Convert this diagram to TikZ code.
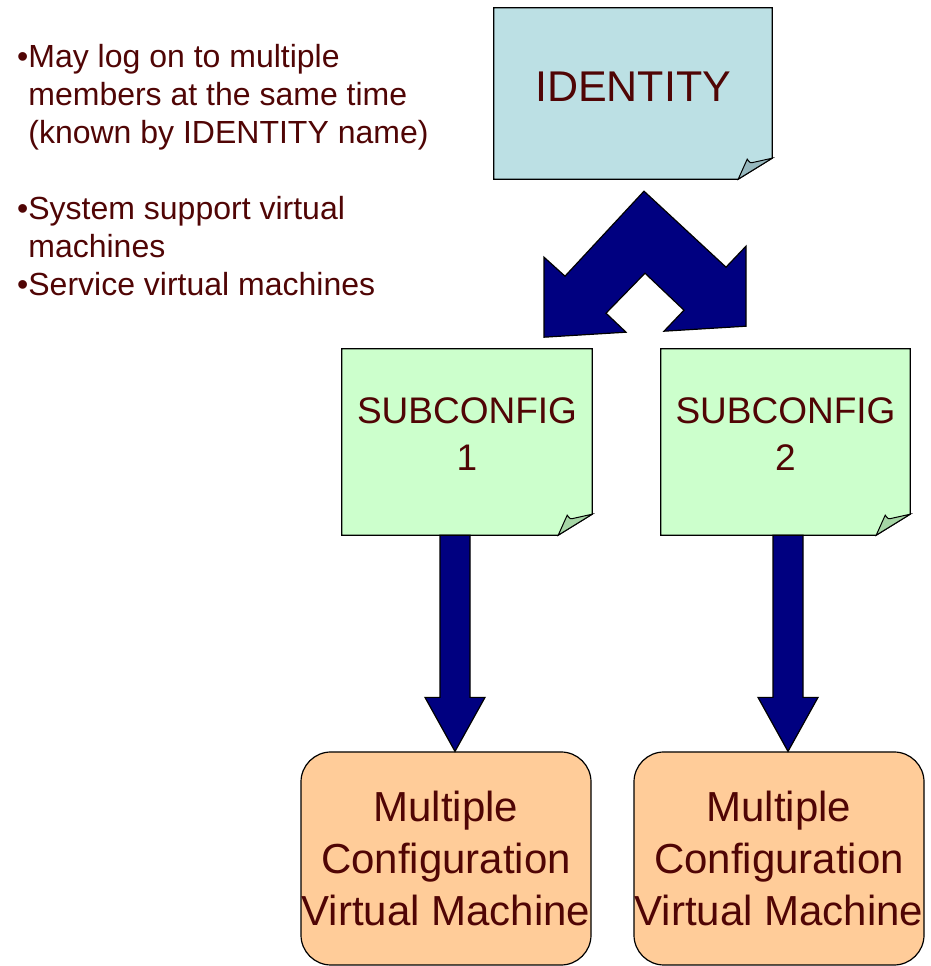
\documentclass[tikz,border=0pt]{standalone}
\usepackage{fontspec}
\setmainfont{Liberation Sans}
\usepackage{tikz}
\usetikzlibrary{backgrounds}
\definecolor{inkred}{RGB}{80,5,5}
\definecolor{idfill}{RGB}{188,224,228}
\definecolor{idfold}{RGB}{150,184,190}
\definecolor{subfill}{RGB}{204,255,204}
\definecolor{subfold}{RGB}{165,214,165}
\definecolor{vmfill}{RGB}{255,204,153}
\definecolor{navy}{RGB}{0,0,128}

\begin{document}
\begin{tikzpicture}[x=1pt,y=1pt]
\tikzset{note/.style={inner sep=0pt,align=center,text=inkred},
  vmbox/.style={draw,line width=1.2pt,fill=vmfill,rounded corners=30pt,minimum width=290pt,minimum height=213pt,inner sep=0pt,align=center,text=inkred,font=\fontsize{42}{52}\selectfont},
  blockarrow/.style={draw,line width=1.2pt,fill=navy,line join=miter}}
\useasboundingbox (0,0) rectangle (930,966);

\node[anchor=north west,inner sep=0pt,align=left,text=inkred,font=\fontsize{32}{38}\selectfont] (notes) at (17,922) {•May log on to multiple\\\phantom{•}members at the same time\\\phantom{•}(known by IDENTITY name)\\[38pt]•System support virtual\\\phantom{•}machines\\•Service virtual machines};

\node[note,minimum width=278pt,minimum height=171pt,text depth=14pt,font=\fontsize{43}{52}\selectfont] (identity) at (633,872.5) {IDENTITY};
\node[note,minimum width=250pt,minimum height=186pt,text depth=16pt,font=\fontsize{37}{47}\selectfont] (sub1) at (467,524) {SUBCONFIG\\1};
\node[note,minimum width=249pt,minimum height=186pt,text depth=16pt,font=\fontsize{37}{47}\selectfont] (sub2) at (785.5,524) {SUBCONFIG\\2};
\node[vmbox] (vm1) at (446,107.5) {Multiple\\Configuration\\Virtual Machine};
\node[vmbox] (vm2) at (779,107.5) {Multiple\\Configuration\\Virtual Machine};

% folded notes
\begin{scope}[on background layer]
\foreach \n/\c/\f in {identity/idfill/idfold,sub1/subfill/subfold,sub2/subfill/subfold}{
  \draw[line width=1.2pt,fill=\c] (\n.north west) -- (\n.north east) -- ([yshift=21pt]\n.south east) -- ([xshift=-34pt]\n.south east) -- (\n.south west) -- cycle;
  \draw[line width=1pt,fill=\f] ([xshift=-34pt]\n.south east) -- ([xshift=-25pt,yshift=20pt]\n.south east) .. controls ([xshift=-22pt,yshift=16pt]\n.south east) .. ([xshift=-18pt,yshift=17pt]\n.south east) -- ([yshift=21pt]\n.south east) -- cycle;
}
\end{scope}

% split arrow
\coordinate (fork) at ([xshift=11pt,yshift=-12pt]identity.south);
\draw[blockarrow] (fork) -- ++(-79,-85) -- ++(-21,19) -- ++(0,-80) -- ++(82,5) -- ++(-20,19) -- ++(39,40) -- ++(39,-37) -- ++(-20,-21) -- ++(82,5) -- ++(0,80) -- ++(-20,-21) -- cycle;

% down arrows
\foreach \s/\v/\dx in {sub1/vm1/-12,sub2/vm2/2.5}{
  \coordinate (drop) at ([xshift=\dx pt]\s.south);
  \coordinate (tip) at (drop |- \v.north);
  \draw[blockarrow] ([xshift=-15pt]drop) -- ([xshift=-15pt,yshift=54pt]tip) -- ([xshift=-30pt,yshift=54pt]tip) -- (tip) -- ([xshift=30pt,yshift=54pt]tip) -- ([xshift=15pt,yshift=54pt]tip) -- ([xshift=15pt]drop) -- cycle;
}
\end{tikzpicture}
\end{document}
